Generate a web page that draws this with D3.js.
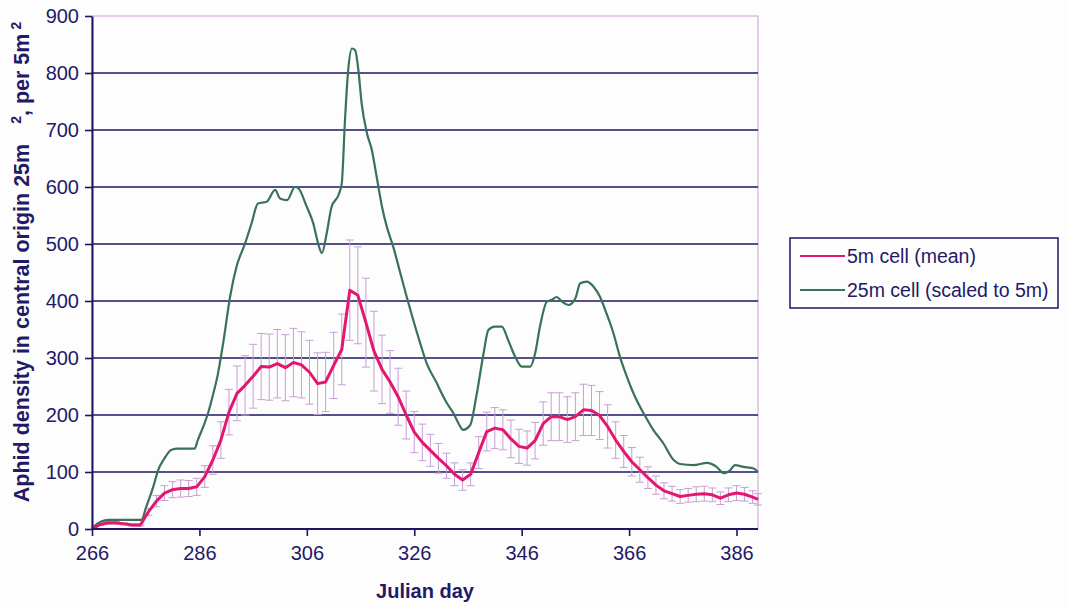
<!DOCTYPE html>
<html>
<head>
<meta charset="utf-8">
<script src="https://cdn.jsdelivr.net/npm/d3@7"></script>
<style>
  body { margin: 0; background: #fdfdfd; }
  svg { display: block; font-family: "Liberation Sans", Arial, sans-serif; }
  .tick-label { fill: #221a66; font-size: 20px; }
  .axis-title { fill: #221a66; font-size: 20px; font-weight: bold; }
  .legend-text { fill: #221a66; font-size: 19.5px; }
</style>
</head>
<body>
<svg id="chart" width="1069" height="606"></svg>
<script>
// Red series: mean of 5m cells with error bars
const meanDays = [
  266, 267.5, 269, 270.5, 272, 273.5, 275, 276.5, 278, 279.5, 281, 282.5, 284, 285.5,
  287, 288.5, 290, 291.5, 293, 294.5, 296, 297.5, 299, 300.5, 302, 303.5, 305, 306.5,
  308, 309.5, 311, 312.5, 314, 315.5, 317, 318.5, 320, 321.5, 323, 324.5, 326, 327.5,
  329, 330.5, 332, 333.5, 335, 336.5, 338, 339.5, 341, 342.5, 344, 345.5, 347, 348.5,
  350, 351.5, 353, 354.5, 356, 357.5, 359, 360.5, 362, 363.5, 365, 366.5, 368, 369.5,
  371, 372.5, 374, 375.5, 377, 378.5, 380, 381.5, 383, 384.5, 386, 387.5, 389, 390
];
const meanValues = [
  0, 8, 11, 11, 9, 7, 7, 30, 49, 63, 69, 71, 71, 74,
  92, 121, 156, 205, 238, 252, 268, 285, 284, 290, 283, 292, 288, 275,
  255, 258, 287, 315, 419, 410, 362, 312, 280, 258, 232, 200, 170, 152,
  138, 124, 111, 96, 86, 96, 134, 171, 177, 174, 158, 145, 142, 155,
  185, 197, 197, 192, 197, 209, 208, 199, 180, 156, 136, 118, 104, 90,
  77, 67, 62, 57, 59, 61, 62, 60, 54, 60, 63, 61, 56, 52
];
const meanErrors = [
  0, 2, 3, 3, 2, 2, 2, 6, 10, 13, 14, 15, 14, 15,
  19, 25, 32, 40, 48, 52, 56, 58, 58, 60, 58, 60, 58, 56,
  54, 52, 58, 62, 88, 85, 78, 70, 60, 55, 50, 42, 36, 32,
  28, 26, 22, 20, 18, 20, 28, 34, 36, 35, 33, 30, 30, 32,
  38, 42, 42, 40, 42, 45, 44, 42, 38, 32, 28, 25, 22, 19,
  16, 14, 13, 12, 12, 13, 13, 12, 11, 12, 13, 12, 11, 10
];

// Green series: 25m cell scaled to 5m
const cellDays = [
  266, 267.7, 269, 275.2, 276.1, 277.4, 278.3, 279.5, 280.8, 282, 285.1, 285.7, 286.7,
  287.6, 288.6, 289.4, 290.5, 291.7, 292.9, 294.5, 295.7, 296.9, 298.5, 300.1, 301,
  302.3, 303.8, 304.4, 306, 307.2, 308.1, 308.8, 309.7, 310.6, 311.9, 312.5, 313.1,
  313.7, 314.4, 315, 315.6, 316.2, 317.2, 318.1, 319, 320, 320.9, 322.1, 323.4, 324.6,
  325.8, 327.1, 328.3, 330.2, 331, 332, 333.3, 334.2, 335.1, 336.4, 337.6, 338.9,
  339.8, 341, 342.3, 343.5, 344.8, 346, 347.6, 348.5, 349.4, 350.7, 351.6, 352.5,
  353.5, 354.7, 356, 356.9, 358.1, 359.4, 360.6, 361.8, 363.1, 364.3, 365.6, 367.1,
  368.7, 370.5, 372.4, 374.3, 375.5, 378, 380.5, 382.3, 383.6, 384.8, 385.7, 387.3,
  389.2, 390
];
const cellValues = [
  2, 13, 16, 16, 39, 74, 103, 124, 139, 141, 141, 156, 179,
  203, 238, 270, 331, 407, 460, 501, 536, 571, 574, 595, 580,
  577, 600, 598, 565, 536, 501, 484, 519, 565, 586, 606, 717,
  805, 843, 840, 805, 747, 694, 665, 618, 565, 530, 495, 449, 407,
  367, 326, 291, 256, 240, 222, 203, 186, 174, 182, 235, 308,
  349, 355, 355, 331, 302, 285, 285, 308, 355, 399, 402, 407,
  399, 393, 405, 431, 434, 425, 407, 378, 343, 302, 267, 232,
  203, 174, 150, 121, 114, 112, 116, 109, 98, 103, 112, 109,
  106, 100
];

const xTicks = [266, 286, 306, 326, 346, 366, 386];
const yTicks = [0, 100, 200, 300, 400, 500, 600, 700, 800, 900];
const legendLabels = ["5m cell (mean)", "25m cell (scaled to 5m)"];

const INK = "#1c1464";
const RED = "#e4176f";
const GREEN = "#3a7259";
const BAR = "#c79fd6";

class AphidChart {
  constructor(selector) {
    this.svg = d3.select(selector);
    this.plot = { left: 92, right: 758, top: 16, bottom: 529 };
    this.x = d3.scaleLinear().domain([266, 390]).range([this.plot.left, this.plot.right]);
    this.y = d3.scaleLinear().domain([0, 900]).range([this.plot.bottom, this.plot.top]);
  }

  render() {
    this.drawFrame();
    this.drawErrorBars();
    this.drawLines();
    this.drawAxes();
    this.drawLegend();
  }

  drawFrame() {
    const { left, right, top, bottom } = this.plot;
    this.svg.append("rect")
      .attr("x", left).attr("y", top)
      .attr("width", right - left).attr("height", bottom - top)
      .attr("fill", "none").attr("stroke", BAR).attr("stroke-width", 1);

    this.svg.append("g")
      .selectAll("line")
      .data(yTicks.filter((t) => t > 0 && t < 900))
      .join("line")
      .attr("x1", left).attr("x2", right)
      .attr("y1", (d) => this.y(d)).attr("y2", (d) => this.y(d))
      .attr("stroke", INK).attr("stroke-width", 1.6);
  }

  drawErrorBars() {
    const bars = meanDays.map((d, i) => ({ day: d, mean: meanValues[i], err: meanErrors[i] }))
      .filter((d) => d.err > 0);
    const g = this.svg.append("g").attr("stroke", BAR).attr("stroke-width", 1).attr("fill", "none");
    const cap = 4;

    g.selectAll("path")
      .data(bars)
      .join("path")
      .attr("d", (d) => {
        const cx = this.x(d.day);
        const top = this.y(d.mean + d.err);
        const bot = this.y(d.mean - d.err);
        return `M${cx},${top}V${bot}M${cx - cap},${top}H${cx + cap}M${cx - cap},${bot}H${cx + cap}`;
      });
  }

  drawLines() {
    const line = d3.line()
      .x((d) => this.x(d[0]))
      .y((d) => this.y(d[1]))
      .curve(d3.curveMonotoneX);

    this.svg.append("path")
      .datum(cellDays.map((d, i) => [d, cellValues[i]]))
      .attr("d", line)
      .attr("fill", "none").attr("stroke", GREEN).attr("stroke-width", 2.2)
      .attr("stroke-linejoin", "round");

    this.svg.append("path")
      .datum(meanDays.map((d, i) => [d, meanValues[i]]))
      .attr("d", line.curve(d3.curveLinear))
      .attr("fill", "none").attr("stroke", RED).attr("stroke-width", 3)
      .attr("stroke-linejoin", "round");
  }

  drawAxes() {
    const { left, right, bottom } = this.plot;

    const xAxis = this.svg.append("g")
      .attr("transform", `translate(0,${bottom})`)
      .call(d3.axisBottom(this.x).tickValues(xTicks).tickSize(7).tickPadding(10).tickSizeOuter(0));
    const yAxis = this.svg.append("g")
      .attr("transform", `translate(${left},0)`)
      .call(d3.axisLeft(this.y).tickValues(yTicks).tickSize(7).tickPadding(6).tickSizeOuter(0));

    [xAxis, yAxis].forEach((ax) => {
      ax.select(".domain").attr("stroke", INK).attr("stroke-width", 2);
      ax.selectAll(".tick line").attr("stroke", INK).attr("stroke-width", 1.6);
      ax.selectAll(".tick text").attr("class", "tick-label").attr("font-family", null).attr("font-size", null);
    });
    xAxis.select(".domain").attr("d", `M${left},0H${right}`);

    this.svg.append("text")
      .attr("class", "axis-title")
      .attr("x", 425).attr("y", 598)
      .attr("text-anchor", "middle")
      .text("Julian day");

    // y title is a little larger than the x title in the scan
    const yt = this.svg.append("text")
      .attr("class", "axis-title")
      .style("font-size", "21.5px")
      .attr("transform", "translate(29,262) rotate(-90)")
      .attr("text-anchor", "middle");
    yt.append("tspan").text("Aphid density in central origin 25m");
    yt.append("tspan").attr("dx", 20).attr("dy", -8).style("font-size", "14px").text("2");
    yt.append("tspan").attr("dy", 8).text(", per 5m");
    yt.append("tspan").attr("dx", 4).attr("dy", -8).style("font-size", "14px").text("2");
  }

  drawLegend() {
    const box = { x: 790, y: 238, w: 268, h: 70 };
    const g = this.svg.append("g");
    g.append("rect")
      .attr("x", box.x).attr("y", box.y).attr("width", box.w).attr("height", box.h)
      .attr("fill", "#fdfdfd").attr("stroke", INK).attr("stroke-width", 1.5);

    const colors = [RED, GREEN];
    const rows = g.selectAll("g.row")
      .data(legendLabels)
      .join("g")
      .attr("class", "row")
      .attr("transform", (d, i) => `translate(${box.x + 10},${box.y + 18 + i * 34})`);

    rows.append("line")
      .attr("x1", 0).attr("x2", 45)
      .attr("stroke", (d, i) => colors[i]).attr("stroke-width", 2.2);
    rows.append("text")
      .attr("class", "legend-text")
      .attr("x", 47).attr("dy", "0.35em")
      .text((d) => d);
  }
}

document.addEventListener("DOMContentLoaded", () => {
  const chart = new AphidChart("#chart");
  chart.render();
});
</script>
</body>
</html>
